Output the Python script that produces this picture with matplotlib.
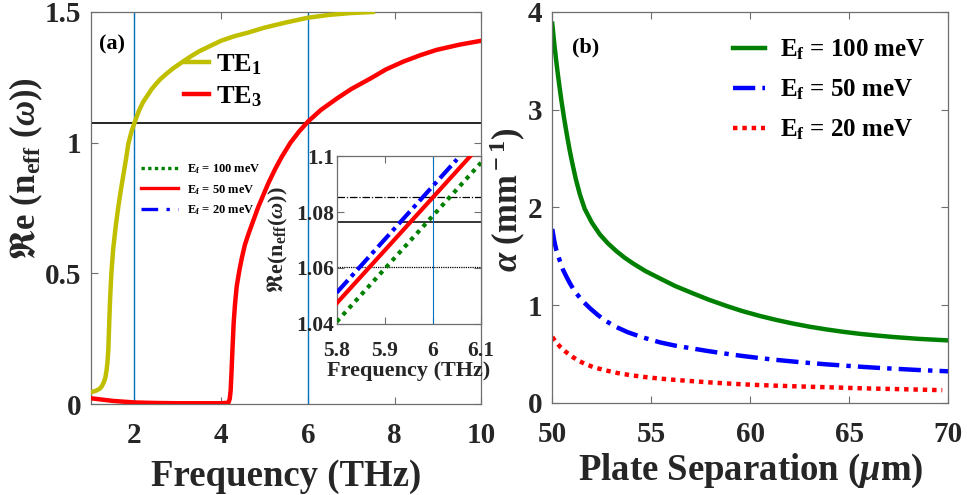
import matplotlib
matplotlib.use("Agg")
import matplotlib.pyplot as plt

plt.rcParams['font.family'] = ['Liberation Serif', 'DejaVu Serif']
plt.rcParams['font.weight'] = 'bold'
plt.rcParams['mathtext.fontset'] = 'custom'
plt.rcParams['mathtext.rm'] = 'Liberation Serif:bold'
plt.rcParams['mathtext.bf'] = 'Liberation Serif:bold'
plt.rcParams['mathtext.it'] = 'Liberation Serif:italic'
plt.rcParams['mathtext.fallback'] = 'stix'

# ---------------- data: panel (a) ----------------
te1_freq = [1.0, 1.1, 1.2, 1.25, 1.3, 1.33, 1.36, 1.38, 1.40, 1.42, 1.44, 1.47, 1.51, 1.57,
            1.63, 1.69, 1.75, 1.81, 1.86, 1.93, 2.0, 2.1, 2.2, 2.3, 2.4, 2.5, 2.6, 2.75,
            2.9, 3.1, 3.3, 3.5, 3.75, 4.0, 4.3, 4.6, 5.0, 5.5, 6.0, 6.5, 7.0, 7.5]
te1_neff = [0.045, 0.05, 0.058, 0.068, 0.085, 0.10, 0.13, 0.16, 0.21, 0.31, 0.40, 0.50, 0.59, 0.68,
            0.755, 0.82, 0.88, 0.94, 0.995, 1.04, 1.075, 1.12, 1.155, 1.18, 1.205, 1.225, 1.243, 1.265,
            1.285, 1.308, 1.33, 1.35, 1.37, 1.39, 1.407, 1.42, 1.44, 1.46, 1.478, 1.489, 1.496, 1.50]

te3_freq = [1.0, 1.5, 2.0, 2.5, 3.0, 3.5, 4.0, 4.17, 4.20, 4.22, 4.24, 4.26, 4.29, 4.32, 4.36,
            4.42, 4.48, 4.55, 4.63, 4.75, 4.86, 5.0, 5.09, 5.25, 5.40, 5.6, 5.8, 6.0, 6.3, 6.68,
            7.0, 7.45, 7.8, 8.2, 8.6, 8.97, 9.5, 10.0]
te3_neff = [0.022, 0.012, 0.006, 0.004, 0.003, 0.003, 0.003, 0.005, 0.02, 0.05, 0.12, 0.20, 0.31, 0.38, 0.45,
            0.51, 0.56, 0.61, 0.65, 0.705, 0.755, 0.81, 0.845, 0.90, 0.946, 1.0, 1.043, 1.08, 1.125, 1.17,
            1.205, 1.246, 1.28, 1.31, 1.335, 1.355, 1.375, 1.39]

marker_freqs = [2, 6]
n_ref = 1.0765

# inset (a)
inset_f100 = [5.8, 6.1]
inset_n100 = [1.0408, 1.0976]
inset_f50 = [5.8, 6.078]
inset_n50 = [1.0474, 1.1]
inset_f20 = [5.8, 6.05]
inset_n20 = [1.0512, 1.0988]
inset_hlines = [1.0855, 1.0763, 1.0605]

# ---------------- data: panel (b) ----------------
sep_100 = [50.0, 50.1, 50.2, 50.3, 50.45, 50.6, 50.75, 50.88, 51.0, 51.19, 51.4, 51.64, 52.0,
           52.4, 52.8, 53.24, 53.65, 54.08, 54.7, 55.43, 56.2, 57.12, 57.9, 58.81, 59.6, 60.49,
           61.3, 62.17, 63.0, 63.86, 64.7, 65.54, 66.4, 67.22, 68.5, 70.0]
alpha_100 = [3.88, 3.68, 3.50, 3.335, 3.11, 2.91, 2.73, 2.585, 2.465, 2.29, 2.13, 1.985, 1.845,
             1.725, 1.635, 1.553, 1.487, 1.427, 1.35, 1.275, 1.197, 1.12, 1.057, 0.992, 0.94, 0.89,
             0.85, 0.812, 0.78, 0.752, 0.728, 0.707, 0.69, 0.675, 0.656, 0.64]
sep_50 = [50.0, 50.1, 50.21, 50.39, 50.55, 50.72, 50.89, 51.05, 51.22, 51.55, 51.9, 52.3, 52.7,
          53.2, 53.8, 54.5, 55.44, 56.2, 57.12, 57.9, 58.81, 59.6, 60.49, 61.3, 62.17, 63.0,
          63.86, 64.7, 65.54, 66.4, 67.22, 68.5, 70.0]
alpha_50 = [1.78, 1.66, 1.56, 1.45, 1.36, 1.29, 1.225, 1.17, 1.12, 1.04, 0.97, 0.90, 0.84,
            0.78, 0.725, 0.675, 0.62, 0.587, 0.556, 0.53, 0.503, 0.481, 0.459, 0.441, 0.424, 0.409,
            0.395, 0.383, 0.371, 0.36, 0.351, 0.337, 0.324]
sep_20 = [50.0, 50.2, 50.4, 50.7, 51.0, 51.3, 51.65, 52.1, 52.7, 53.3, 54.0, 54.7, 55.4, 56.2,
          57.1, 57.9, 58.8, 59.6, 60.5, 61.3, 62.2, 63.0, 63.9, 64.7, 65.5, 66.3, 67.2, 68.5, 69.7]
alpha_20 = [0.675, 0.62, 0.575, 0.52, 0.475, 0.435, 0.40, 0.365, 0.333, 0.306, 0.283, 0.265, 0.25, 0.236,
            0.223, 0.211, 0.2, 0.191, 0.183, 0.177, 0.171, 0.166, 0.161, 0.156, 0.151, 0.147, 0.143, 0.137, 0.131]

YELLOW = (0.75, 0.75, 0.0)
GREEN = (0.0, 0.5, 0.0)
RED = (1.0, 0.0, 0.0)
BLUE = (0.0, 0.0, 1.0)
VBLUE = '#0072BD'
SPINE = '#6e6e6e'
TXT = '#262626'

fig = plt.figure(figsize=(9.67, 4.95), dpi=100)

def style_axes(ax, labelsize, xpad, ypad):
    for s in ax.spines.values():
        s.set_color(SPINE)
        s.set_linewidth(0.9)
    ax.tick_params(direction='in', top=True, right=True, length=5, width=0.8,
                   color=SPINE, labelsize=labelsize, labelcolor=TXT)
    ax.tick_params(axis='x', pad=xpad)
    ax.tick_params(axis='y', pad=ypad)
    for lab in ax.get_xticklabels() + ax.get_yticklabels():
        lab.set_fontweight('bold')

# ---------------- panel (a) ----------------
ax1 = fig.add_axes([0.0941, 0.1838, 0.4036, 0.7920])
l1, = ax1.plot(te1_freq, te1_neff, color=YELLOW, lw=3.2, label='TE$_1$', zorder=3)
l3, = ax1.plot(te3_freq, te3_neff, color=RED, lw=3.2, label='TE$_3$', zorder=3)
for f in marker_freqs:
    ax1.axvline(f, color=VBLUE, lw=1.0, zorder=2)
ax1.axhline(n_ref, color='black', lw=1.2, zorder=2)
ax1.set_xlim(1, 10)
ax1.set_ylim(0, 1.5)
ax1.set_xticks([2, 4, 6, 8, 10])
ax1.set_yticks([0, 0.5, 1, 1.5])
ax1.set_yticklabels(['0', '0.5', '1', '1.5'])
style_axes(ax1, 21, xpad=13, ypad=7)
ax1.set_xlabel('Frequency (THz)', fontsize=26.5, fontweight='bold', color=TXT, labelpad=7)
ax1.set_ylabel(r'$\Re$e (n$_{\rm eff}$ ($\omega$))', fontsize=25, fontweight='bold', color=TXT)
ax1.yaxis.set_label_coords(-0.118, 0.60)
ax1.text(0.02, 0.916, '(a)', transform=ax1.transAxes, fontsize=16, fontweight='bold',
         va='center', ha='left')

leg1 = ax1.legend(handles=[l1, l3], loc='upper left', bbox_to_anchor=(0.21, 0.925),
                  frameon=False, fontsize=19, handlelength=0.95, handletextpad=0.3,
                  labelspacing=0.3, borderaxespad=0)
ax1.add_artist(leg1)

# legend for inset curves (placed in main axes)
h100, = ax1.plot([], [], color=GREEN, lw=2.4, ls=(0, (1, 1)), label='E$_{\\rm f}$ = 100 meV')
h50, = ax1.plot([], [], color=RED, lw=2.4, ls='-', label='E$_{\\rm f}$ = 50 meV')
h20, = ax1.plot([], [], color=BLUE, lw=2.4, ls=(0, (5, 2.5, 1, 2.5)), label='E$_{\\rm f}$ = 20 meV')
ax1.legend(handles=[h100, h50, h20], loc='upper left', bbox_to_anchor=(0.115, 0.63),
           frameon=False, fontsize=9, handlelength=3.0, handletextpad=0.7,
           labelspacing=0.55, borderaxespad=0)

# ---------------- inset ----------------
axi = fig.add_axes([0.3482, 0.3455, 0.1492, 0.3393])
axi.plot(inset_f100, inset_n100, color=GREEN, lw=3.0, ls=(0, (1, 1.2)), zorder=3)
axi.plot(inset_f50, inset_n50, color=RED, lw=3.0, ls='-', zorder=3)
axi.plot(inset_f20, inset_n20, color=BLUE, lw=3.0, ls=(0, (4, 1.2, 1, 1.2)), zorder=3)
axi.axhline(inset_hlines[0], color='black', lw=0.9, ls=(0, (6, 1.5, 1, 1.5)))
axi.axhline(inset_hlines[1], color='black', lw=1.1, ls='-')
axi.axhline(inset_hlines[2], color='black', lw=0.9, ls=(0, (1, 0.8)))
axi.axvline(6.0, color=VBLUE, lw=0.8)
axi.set_xlim(5.8, 6.1)
axi.set_ylim(1.04, 1.1)
axi.set_xticks([5.8, 5.9, 6.0, 6.1])
axi.set_xticklabels(['5.8', '5.9', '6', '6.1'])
axi.set_yticks([1.04, 1.06, 1.08, 1.1])
axi.set_yticklabels(['1.04', '1.06', '1.08', '1.1'])
style_axes(axi, 15.5, xpad=12.5, ypad=2)
axi.set_xlabel('Frequency (THz)', fontsize=16, fontweight='bold', color=TXT, labelpad=0)
axi.set_ylabel(r'$\Re$e(n$_{\rm eff}$($\omega$))', fontsize=16, fontweight='bold',
               color=TXT, labelpad=4)

# ---------------- panel (b) ----------------
ax2 = fig.add_axes([0.5711, 0.1859, 0.4095, 0.7900])
g1, = ax2.plot(sep_100, alpha_100, color=GREEN, lw=3.2, ls='-', label='E$_{\\rm f}$ = 100 meV')
g2, = ax2.plot(sep_50, alpha_50, color=BLUE, lw=3.2, ls=(0, (5, 1.6, 1, 1.6)),
               label='E$_{\\rm f}$ = 50 meV')
g3, = ax2.plot(sep_20, alpha_20, color=RED, lw=3.2, ls=(0, (1, 1.1)),
               label='E$_{\\rm f}$ = 20 meV')
ax2.set_xlim(50, 70)
ax2.set_ylim(0, 4)
ax2.set_xticks([50, 55, 60, 65, 70])
ax2.set_yticks([0, 1, 2, 3, 4])
style_axes(ax2, 21, xpad=13, ypad=7)
ax2.set_xlabel(r'Plate Separation ($\mu$m)', fontsize=26.5, fontweight='bold',
               color=TXT, labelpad=3)
ax2.set_ylabel(r'$\alpha$ (mm$^{\rm -1}$)', fontsize=25, fontweight='bold', color=TXT)
ax2.yaxis.set_label_coords(-0.06, 0.52)
ax2.text(0.049, 0.908, '(b)', transform=ax2.transAxes, fontsize=16, fontweight='bold',
         va='center', ha='left')
ax2.legend(handles=[g1, g2, g3], loc='upper left', bbox_to_anchor=(0.43, 0.96),
           frameon=False, fontsize=18, handlelength=1.3, handletextpad=0.6,
           labelspacing=0.62, borderaxespad=0)

fig.savefig('out.png', dpi=100)
